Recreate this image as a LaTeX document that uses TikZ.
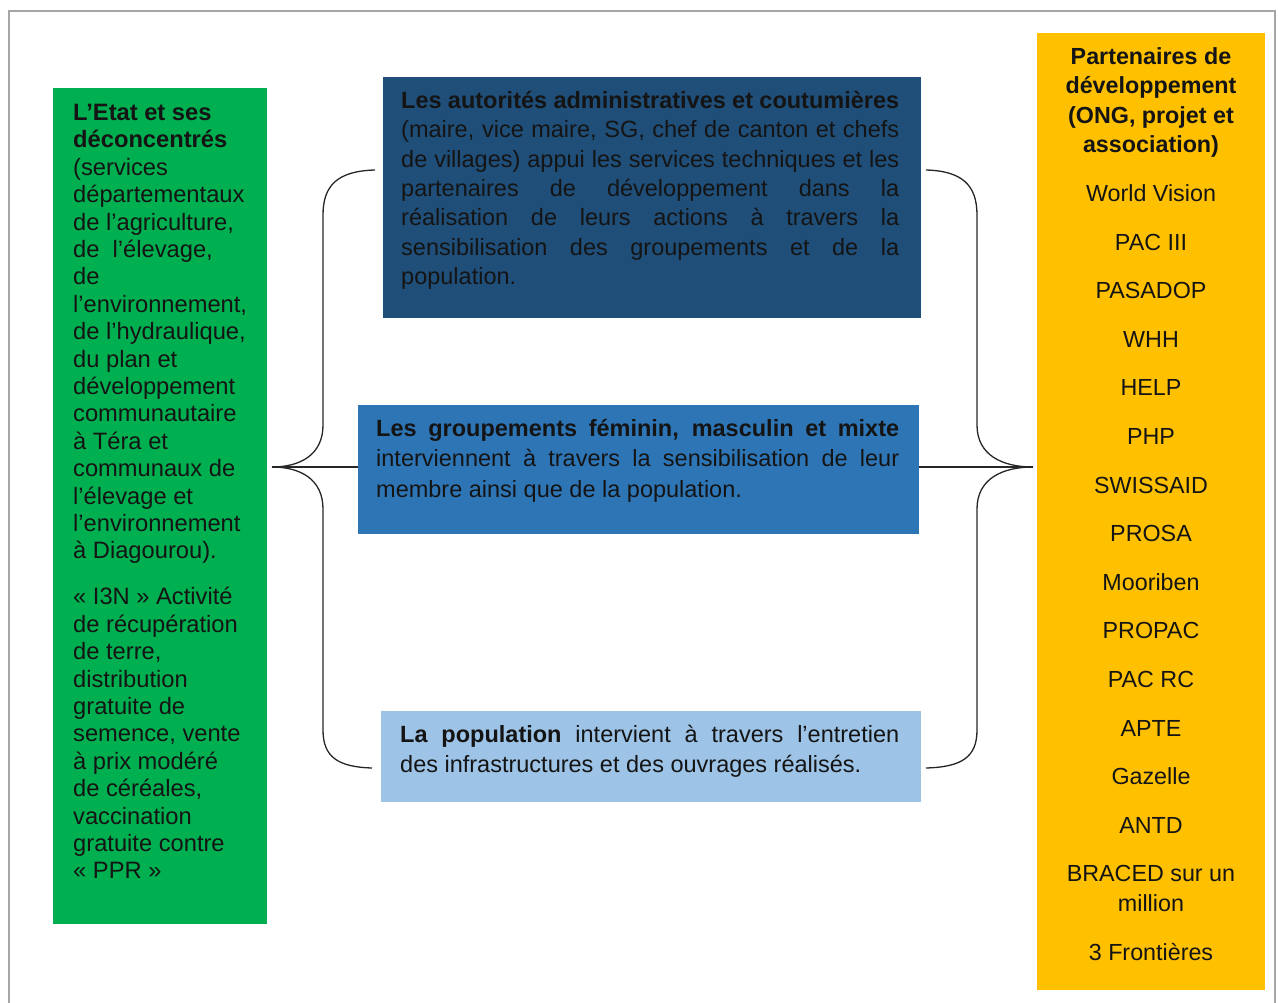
\documentclass[tikz,border=0pt]{standalone}
\usepackage{fontspec}
\setmainfont{Liberation Sans}
\definecolor{cgreen}{HTML}{00B050}
\definecolor{cdark}{HTML}{1F4E79}
\definecolor{cmid}{HTML}{2E75B6}
\definecolor{clight}{HTML}{9DC3E6}
\definecolor{cyellow}{HTML}{FFC000}
\definecolor{cframe}{HTML}{A6A6A6}
\definecolor{ctext}{HTML}{141414}
\newcommand{\myjust}[2]{\makebox[#1][s]{#2}}
\begin{document}
\begin{tikzpicture}[x=1pt,y=-1pt,
  box/.style={draw=none, rectangle, inner sep=0pt, outer sep=0pt, anchor=north west},
  txt/.style={inner sep=0pt, anchor=north west, align=left, text=ctext},
  bracepath/.style={draw=black!85, line width=1.3pt}]
\useasboundingbox (0,0) rectangle (1278,1003);
\draw[cframe, line width=1.6pt] (9,1004) -- (9,11) -- (1275,11) -- (1275,1004);

% boxes
\node[box, fill=cgreen, minimum width=214pt, minimum height=836pt] (green) at (53,88) {};
\node[box, fill=cdark, minimum width=538pt, minimum height=241pt] (dark) at (383,77) {};
\node[box, fill=cmid, minimum width=561pt, minimum height=129pt] (mid) at (358,405) {};
\node[box, fill=clight, minimum width=540pt, minimum height=91pt] (light) at (381,711) {};
\node[box, fill=cyellow, minimum width=228pt, minimum height=957pt] (yellow) at (1037,33) {};

% left text
\node[txt, font=\fontsize{23.7}{27.4}\selectfont] (greentext) at (73,104) {%
\textbf{L’Etat et ses}\\
\textbf{déconcentrés}\\
(services\\
départementaux\\
de l’agriculture,\\
de~~l’élevage,\\
de\\
l’environnement,\\
de l’hydraulique,\\
du plan et\\
développement\\
communautaire\\
à Téra et\\
communaux de\\
l’élevage et\\
l’environnement\\
à Diagourou).\\[18.6pt]
« I3N » Activité\\
de récupération\\
de terre,\\
distribution\\
gratuite de\\
semence, vente\\
à prix modéré\\
de céréales,\\
vaccination\\
gratuite contre\\
« PPR »};

% dark box text
\node[txt, font=\fontsize{23.5}{29.33}\selectfont] (darktext) at (401,91) {%
\myjust{498pt}{\textbf{Les autorités administratives et coutumières}}\\
\myjust{498pt}{(maire, vice maire, SG, chef de canton et chefs}\\
\myjust{498pt}{de villages) appui les services techniques et les}\\
\myjust{498pt}{partenaires de développement dans la}\\
\myjust{498pt}{réalisation de leurs actions à travers la}\\
\myjust{498pt}{sensibilisation des groupements et de la}\\
population.};

% middle box text
\node[txt, font=\fontsize{23.5}{30.5}\selectfont] (midtext) at (376,419) {%
\myjust{523pt}{\textbf{Les groupements féminin, masculin et mixte}}\\
\myjust{523pt}{interviennent à travers la sensibilisation de leur}\\
membre ainsi que de la population.};

% light box text
\node[txt, font=\fontsize{23.5}{30}\selectfont] (lighttext) at (400,725) {%
\myjust{499pt}{\textbf{La population} intervient à travers l’entretien}\\
des infrastructures et des ouvrages réalisés.};

% yellow text
\node[inner sep=0pt, anchor=north, align=center, text=ctext, font=\fontsize{23.3}{29.5}\selectfont] (yellowtext) at (1151,47) {%
\textbf{Partenaires de}\\
\textbf{développement}\\
\textbf{(ONG, projet et}\\
\textbf{association)}\\[19.5pt]
World Vision\\[19.1pt]
PAC III\\[19.1pt]
PASADOP\\[19.1pt]
WHH\\[19.1pt]
HELP\\[19.1pt]
PHP\\[19.1pt]
SWISSAID\\[19.1pt]
PROSA\\[19.1pt]
Mooriben\\[19.1pt]
PROPAC\\[19.1pt]
PAC RC\\[19.1pt]
APTE\\[19.1pt]
Gazelle\\[19.1pt]
ANTD\\[19.1pt]
BRACED sur un\\
million\\[19.5pt]
3 Frontières};

% braces
\coordinate (ltip) at (272,467);
\coordinate (ltop) at (375,170);
\coordinate (lbot) at (372,768);
\coordinate (rtip) at (1033,467);
\coordinate (rtop) at (926,170);
\coordinate (rbot) at (926,768);
\draw[bracepath] (ltop) .. controls (338,171) and (323,185) .. (323,215) -- (323,425)
  .. controls (323,455) and (300,467) .. (ltip)
  .. controls (300,467) and (323,479) .. (323,509) -- (323,730)
  .. controls (323,757) and (338,767) .. (lbot);
\draw[bracepath] (rtop) .. controls (962,171) and (977,185) .. (977,215) -- (977,425)
  .. controls (977,455) and (1002,467) .. (rtip)
  .. controls (1002,467) and (977,479) .. (977,509) -- (977,730)
  .. controls (977,757) and (962,767) .. (rbot);
\draw[bracepath] (mid.west |- ltip) -- (ltip);
\draw[bracepath] (mid.east |- rtip) -- (rtip);
\end{tikzpicture}
\end{document}
